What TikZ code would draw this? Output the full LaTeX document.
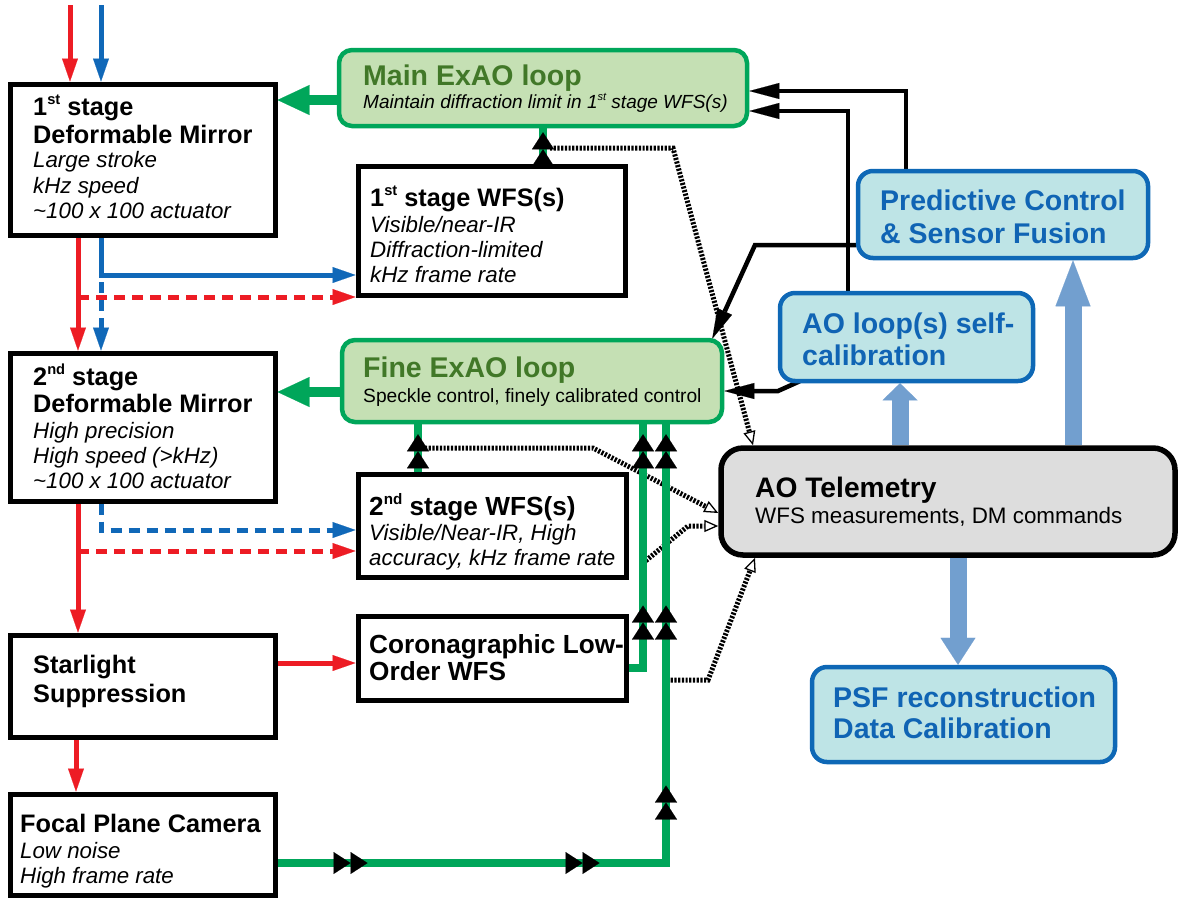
\documentclass[tikz,border=0pt]{standalone}
\usepackage{fontspec}
\setmainfont{Liberation Sans}
\usetikzlibrary{arrows.meta,decorations.markings,backgrounds}
\definecolor{cred}{RGB}{237,28,36}
\definecolor{cblue}{RGB}{16,104,184}
\definecolor{cgreen}{RGB}{0,166,90}
\definecolor{lgreen}{RGB}{197,224,180}
\definecolor{dgreen}{RGB}{65,120,40}
\definecolor{lcyan}{RGB}{190,228,230}
\definecolor{bborder}{RGB}{14,104,182}
\definecolor{btext}{RGB}{16,100,180}
\definecolor{barrow}{RGB}{114,159,207}
\definecolor{lgray}{RGB}{221,221,221}
\newcommand\mysup[1]{\raisebox{0.42em}{\scalebox{0.58}{#1}}}
\pgfkeys{/pgf/decoration/dblmark/.style={mark=at position #1 with {\arrow{Triangle[color=black,length=17pt,width=22pt,line width=0.1pt] Triangle[color=black,length=17pt,width=22pt,line width=0.1pt]}}}}
\begin{document}
\begin{tikzpicture}[x=1pt,y=-1pt,
  plainbox/.style={draw=black,line width=5pt,fill=white,inner sep=0pt},
  loopbox/.style={draw=cgreen,line width=4.5pt,fill=lgreen,rounded corners=13pt,inner sep=0pt},
  bluebox/.style={draw=bborder,line width=4.5pt,fill=lcyan,rounded corners=15pt,inner sep=0pt},
  telbox/.style={draw=black,line width=5.5pt,fill=lgray,rounded corners=22pt,inner sep=0pt},
  ln/.style={anchor=base west,inner sep=0pt},
  bt/.style={ln,font=\fontsize{25.3}{30}\selectfont\bfseries},
  bt26/.style={ln,font=\fontsize{26.2}{30}\selectfont\bfseries},
  it/.style={ln,font=\fontsize{22.3}{26}\selectfont\itshape},
  gt/.style={ln,text=dgreen,font=\fontsize{28.5}{30}\selectfont\bfseries},
  bl/.style={ln,text=btext,font=\fontsize{28.5}{30}\selectfont\bfseries},
  redarr/.style={draw=cred,line width=5pt,-{Triangle[length=23pt,width=16pt,line width=0.1pt]}},
  bluearr/.style={draw=cblue,line width=5pt,-{Triangle[length=23pt,width=16pt,line width=0.1pt]}},
  dashpat/.style={dash pattern=on 11pt off 7pt},
  greenbig/.style={draw=cgreen,line width=10pt,-{Triangle[length=32pt,width=30pt,line width=0.1pt]}},
  blackarr/.style={draw=black,line width=4.5pt,-{Triangle[length=30pt,width=16pt,line width=0.1pt]}},
  dotarr/.style={draw=black,line width=5pt,dash pattern=on 2.2pt off 1.5pt,-{Triangle[length=14pt,width=12pt,fill=white,line width=1.3pt]}},
  bigblue/.style={draw=barrow,line width=17pt,-{Triangle[length=#1,width=35pt,line width=0.1pt]}},
  gline/.style={draw=cgreen,line width=8pt,postaction={decorate}}
]
\useasboundingbox (0,0) rectangle (1180,898);
% boxes
\node[plainbox,minimum width=265pt,minimum height=151pt] (dm1) at (142.5,159.5) {};
\node[plainbox,minimum width=265pt,minimum height=148pt] (dm2) at (142.5,427) {};
\node[plainbox,minimum width=265pt,minimum height=102pt] (star) at (142.5,686) {};
\node[plainbox,minimum width=265pt,minimum height=101pt] (focal) at (142.5,844.5) {};
\node[plainbox,minimum width=267pt,minimum height=129pt] (wfs1) at (491.5,230.5) {};
\node[plainbox,minimum width=268pt,minimum height=103pt] (wfs2) at (492,525.5) {};
\node[plainbox,minimum width=268pt,minimum height=84pt] (coro) at (492,658) {};
\node[loopbox,minimum width=408pt,minimum height=76pt] (main) at (543,88) {};
\node[loopbox,minimum width=380pt,minimum height=82pt] (fine) at (532,381) {};
\node[telbox,minimum width=454pt,minimum height=107pt] (tel) at (948,501.5) {};
\node[bluebox,minimum width=303pt,minimum height=95pt] (psf) at (963.5,714.5) {};
\node[bluebox,minimum width=253pt,minimum height=88pt] (selfcal) at (906.5,337) {};
\node[bluebox,minimum width=290pt,minimum height=87pt] (pred) at (1003,214.5) {};
% texts: 1st stage DM
\node[bt] (dm1a) at (33,115) {1\mysup{st} stage};
\node[bt] (dm1b) at (33,143) {Deformable Mirror};
\node[it] (dm1c) at (33,167.5) {Large stroke};
\node[it] (dm1d) at (33,193) {kHz speed};
\node[it] (dm1e) at (33,218) {\textasciitilde100 x 100 actuator};
% 2nd stage DM
\node[bt] (dm2a) at (33,385) {2\mysup{nd} stage};
\node[bt] (dm2b) at (33,412) {Deformable Mirror};
\node[it] (dm2c) at (33,438) {High precision};
\node[it] (dm2d) at (33,463) {High speed (>kHz)};
\node[it] (dm2e) at (33,488) {\textasciitilde100 x 100 actuator};
% starlight, focal plane
\node[bt] (sta) at (33,673) {Starlight};
\node[bt] (stb) at (33,702) {Suppression};
\node[bt] (fpa) at (20,832) {Focal Plane Camera};
\node[it] (fpb) at (20,858) {Low noise};
\node[it] (fpc) at (20,883) {High frame rate};
% WFS boxes
\node[bt] (w1a) at (370,206) {1\mysup{st} stage WFS(s)};
\node[it] (w1b) at (370,232) {Visible/near-IR};
\node[it] (w1c) at (370,257) {Diffraction-limited};
\node[it] (w1d) at (370,282) {kHz frame rate};
\node[bt26] (w2a) at (369,515) {2\mysup{nd} stage WFS(s)};
\node[it] (w2b) at (369,540) {Visible/Near-IR, High};
\node[it] (w2c) at (369,565) {accuracy, kHz frame rate};
\node[bt26] (coa) at (369,653) {Coronagraphic Low-};
\node[bt26] (cob) at (369,680) {Order WFS};
% loops
\node[gt] (tmain) at (363,85) {Main ExAO loop};
\node[ln,font=\fontsize{19}{22}\selectfont\itshape] (tmainsub) at (363,108) {Maintain diffraction limit in 1\mysup{st} stage WFS(s)};
\node[gt] (tfine) at (363,377) {Fine ExAO loop};
\node[ln,font=\fontsize{19.2}{22}\selectfont] (tfinesub) at (363,402) {Speckle control, finely calibrated control};
% telemetry
\node[ln,font=\fontsize{28.2}{30}\selectfont\bfseries] (ttel) at (755,497) {AO Telemetry};
\node[ln,font=\fontsize{22.4}{26}\selectfont] (ttelsub) at (755,523) {WFS measurements, DM commands};
% blue boxes
\node[bl] (pra) at (880,210) {Predictive Control};
\node[bl] (prb) at (880,243) {\& Sensor Fusion};
\node[bl] (sca) at (802,333) {AO loop(s) self-};
\node[bl] (scb) at (802,365) {calibration};
\node[bl] (psa) at (833,707) {PSF reconstruction};
\node[bl] (psb) at (833,738) {Data Calibration};
% connectors
\begin{pgfonlayer}{background}
\coordinate (rin) at (70,5);
\coordinate (bin) at (101,5);
\draw[redarr] (rin) -- (70,0 |- dm1.north);
\draw[bluearr] (bin) -- (101,0 |- dm1.north);
\draw[redarr] (78,0 |- dm1.south) -- (78,0 |- dm2.north);
\draw[bluearr] (101,0 |- dm1.south) -- (101,275) -- (wfs1.west |- 0,275);
\coordinate (rd1) at (78,297);
\draw[redarr,dashpat] (rd1) -- (wfs1.west |- 0,297);
\coordinate (bd1) at (101,282);
\draw[bluearr,dashpat] (bd1) -- (101,0 |- dm2.north);
\draw[redarr] (78,0 |- dm2.south) -- (78,0 |- star.north);
\draw[bluearr,dashpat] (101,0 |- dm2.south) -- (101,530) -- (wfs2.west |- 0,530);
\coordinate (rd2) at (78,551);
\draw[redarr,dashpat] (rd2) -- (wfs2.west |- 0,551);
\draw[redarr] (star.east |- 0,663) -- (coro.west |- 0,663);
\draw[redarr] (76,0 |- star.south) -- (76,0 |- focal.north);
\draw[greenbig] (main.west |- 0,100) -- (dm1.east |- 0,100);
\draw[greenbig] (fine.west |- 0,392) -- (dm2.east |- 0,392);
% dotted telemetry links
\coordinate (d1) at (550,148);
\draw[dotarr] (d1) -- (673,148) -- (753,0 |- tel.north);
\coordinate (d2) at (425,448);
\draw[dotarr] (d2) -- (593,448) -- (tel.west |- 0,513);
\coordinate (d3) at (643,563);
\draw[dotarr] (d3) -- (688,526) -- (tel.west |- 0,526);
\coordinate (d4) at (667,680);
\draw[dotarr] (d4) -- (708,680) -- (755,0 |- tel.south);
% green sensor lines
\draw[gline,decoration={markings,dblmark=-4pt}] (543,0 |- wfs1.north) -- (543,0 |- main.south);
\draw[gline,decoration={markings,dblmark=-10pt}] (418,0 |- wfs2.north) -- (418,0 |- fine.south);
\draw[gline,decoration={markings,dblmark=77pt,dblmark=-10pt}] (coro.east |- 0,668) -- (643,668) -- (643,0 |- fine.south);
\draw[gline,decoration={markings,dblmark=90pt,dblmark=322pt,dblmark=466pt,dblmark=646pt,dblmark=-10pt}] (focal.east |- 0,863) -- (666,863) -- (666,0 |- fine.south);
% black control links
\draw[blackarr] (906,0 |- pred.north) -- (906,91) -- (main.east |- 0,91);
\draw[blackarr] (848,0 |- selfcal.north) -- (848,111) -- (main.east |- 0,111);
\draw[blackarr] (pred.west |- 0,245) -- (755,245) -- ([xshift=-12pt,yshift=-1pt]fine.north east);
\draw[blackarr] ([xshift=22pt,yshift=2pt]selfcal.south west) -- (778,391) -- (fine.east |- 0,391);
% big blue arrows
\draw[bigblue=17pt] (900,0 |- tel.north) -- (900,0 |- selfcal.south);
\draw[bigblue=46pt] (1073,0 |- tel.north) -- (1073,0 |- pred.south);
\draw[bigblue=27pt] (958,0 |- tel.south) -- (958,0 |- psf.north);
\end{pgfonlayer}
\end{tikzpicture}
\end{document}
